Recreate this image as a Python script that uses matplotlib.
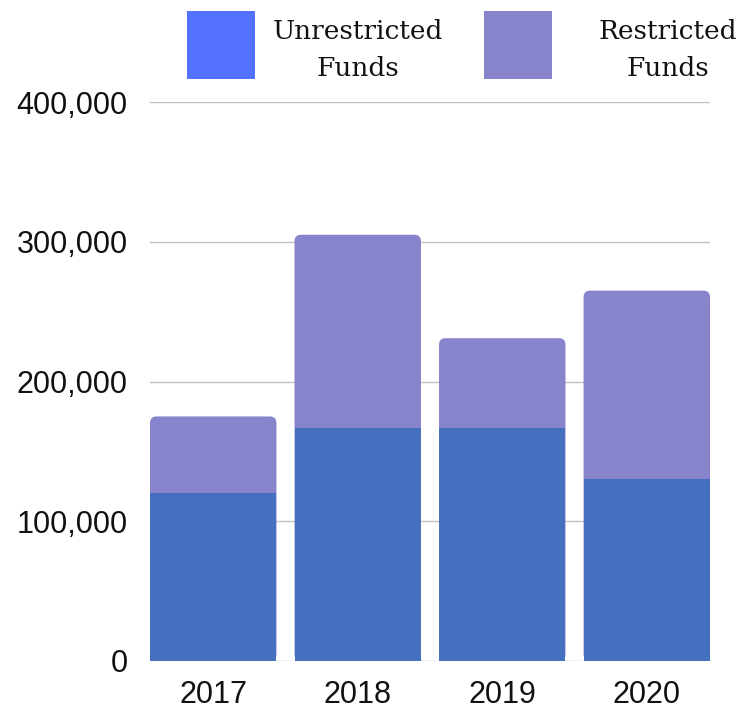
import matplotlib.pyplot as plt
from matplotlib.patches import FancyBboxPatch, Rectangle
from matplotlib.ticker import FuncFormatter

# chart data
years = ["2017", "2018", "2019", "2020"]
unrestricted = [120000, 167000, 167000, 130000]
restricted = [55000, 138000, 64000, 135000]
labels = ["Unrestricted\nFunds", "Restricted\nFunds"]

BLUE = "#4470BF"
PURPLE = "#8884CC"
SWATCH = ["#5272FF", PURPLE]

fig = plt.figure(figsize=(7.55, 7.11), dpi=100)
ax = fig.add_axes([150 / 755, 50 / 711, 560 / 755, 559 / 711])

x = range(len(years))
w = 0.875
totals = [u + r for u, r in zip(unrestricted, restricted)]

# purple part drawn full height with rounded top, blue on top of it
top = ax.bar(x, restricted, bottom=unrestricted, width=w, color=PURPLE, zorder=2)
for rect, tot in zip(top, totals):
    rect.set_visible(False)
    ax.add_patch(FancyBboxPatch((rect.get_x(), 0), rect.get_width(), tot,
                                boxstyle="round,pad=0,rounding_size=0.045",
                                mutation_aspect=103000, fc=PURPLE, ec="none",
                                zorder=2))
ax.bar(x, unrestricted, width=w, color=BLUE, zorder=3)

ax.set_xlim(-w / 2, len(years) - 1 + w / 2)
ax.set_ylim(0, 400000)
ax.set_yticks([0, 100000, 200000, 300000, 400000])
ax.yaxis.set_major_formatter(FuncFormatter(lambda v, p: f"{int(v):,}"))
ax.set_xticks(list(x))
ax.set_xticklabels(years)
ax.tick_params(axis="y", length=0, labelsize=22, pad=16, colors="#111111")
ax.tick_params(axis="x", length=0, labelsize=22, pad=14, colors="#111111")
for lab in ax.get_xticklabels() + ax.get_yticklabels():
    lab.set_family("Liberation Sans")
ax.grid(axis="y", color="#C0C0C0", lw=1, zorder=0)
ax.set_axisbelow(True)
for s in ax.spines.values():
    s.set_visible(False)

# legend built by hand
sw_x = [187, 484]
txt_x = [358, 668]
for i in range(2):
    fig.patches.append(Rectangle((sw_x[i] / 755, 1 - 79 / 711), 68 / 755, 68 / 711,
                                 transform=fig.transFigure, fc=SWATCH[i], ec="none"))
    fig.text(txt_x[i] / 755, 1 - 50 / 711, labels[i], ha="center", va="center",
             family="DejaVu Serif", fontsize=19, linespacing=1.6, color="#111111")

fig.savefig("out.png", dpi=100)
